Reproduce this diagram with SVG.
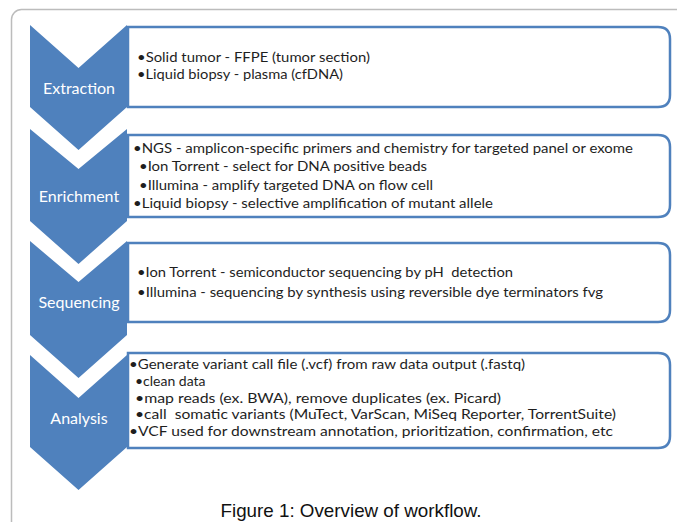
<svg xmlns="http://www.w3.org/2000/svg" width="677" height="522" viewBox="0 0 677 522">
  <style>
    .frame { fill: #ffffff; stroke: #bcbcbc; stroke-width: 1.5; }
    .chev { fill: #4f81bd; }
    .box { fill: #ffffff; stroke: #4f81bd; stroke-width: 2.5; }
    .lbl { font-family: Lato, "Liberation Sans", sans-serif; font-size: 16px; fill: #ffffff; text-anchor: middle; }
    .txt { font-family: Lato, "Liberation Sans", sans-serif; font-size: 14px; fill: #1e1e1e; white-space: pre; }
    .cap { font-family: "Liberation Sans", Arial, sans-serif; font-size: 18.5px; fill: #111111; text-anchor: middle; }
  </style>
  <rect width="677" height="522" fill="#ffffff"/>
  <rect class="frame" x="11.5" y="9.5" width="720" height="600" rx="10"/>

  <g id="extraction">
    <path class="box" d="M128,27 H658 Q670,27 670,39 V95 Q670,107 658,107 H128 Z"/>
    <path class="chev" d="M30,25 L78.5,68 L127,25 V107 L78.5,150 L30,107 Z"/>
    <text class="lbl" x="79" y="94">Extraction</text>
    <text class="txt" x="137" y="62" textLength="233" lengthAdjust="spacingAndGlyphs">•Solid tumor - FFPE (tumor section)</text>
    <text class="txt" x="137" y="79" textLength="206" lengthAdjust="spacingAndGlyphs">•Liquid biopsy - plasma (cfDNA)</text>
  </g>

  <g id="enrichment">
    <path class="box" d="M128,135 H658 Q670,135 670,147 V205 Q670,217 658,217 H128 Z"/>
    <path class="chev" d="M30,129 L78.5,169 L127,129 V221 L78.5,264 L30,221 Z"/>
    <text class="lbl" x="79" y="202">Enrichment</text>
    <text class="txt" x="133" y="153" textLength="500" lengthAdjust="spacingAndGlyphs">•NGS - amplicon-specific primers and chemistry for targeted panel or exome</text>
    <text class="txt" x="139" y="171" textLength="288" lengthAdjust="spacingAndGlyphs">•Ion Torrent - select for DNA positive beads</text>
    <text class="txt" x="139" y="190" textLength="294" lengthAdjust="spacingAndGlyphs">•Illumina - amplify targeted DNA on flow cell</text>
    <text class="txt" x="133" y="208" textLength="360" lengthAdjust="spacingAndGlyphs">•Liquid biopsy - selective amplification of mutant allele</text>
  </g>

  <g id="sequencing">
    <path class="box" d="M128,243 H658 Q670,243 670,255 V310 Q670,322 658,322 H128 Z"/>
    <path class="chev" d="M30,241 L78.5,282 L127,241 V335 L78.5,378 L30,335 Z"/>
    <text class="lbl" x="79" y="308">Sequencing</text>
    <text class="txt" x="137" y="277" textLength="376" lengthAdjust="spacingAndGlyphs">•Ion Torrent - semiconductor sequencing by pH  detection</text>
    <text class="txt" x="137" y="297" textLength="466" lengthAdjust="spacingAndGlyphs">•Illumina - sequencing by synthesis using reversible dye terminators fvg</text>
  </g>

  <g id="analysis">
    <path class="box" d="M128,353 H658 Q670,353 670,365 V436 Q670,448 658,448 H128 Z"/>
    <path class="chev" d="M30,355 L78.5,398 L127,355 V447 L78.5,490 L30,447 Z"/>
    <text class="lbl" x="79" y="424">Analysis</text>
    <text class="txt" x="129" y="369" textLength="396" lengthAdjust="spacingAndGlyphs">•Generate variant call file (.vcf) from raw data output (.fastq)</text>
    <text class="txt" x="135" y="386">•clean data</text>
    <text class="txt" x="135" y="403" textLength="366" lengthAdjust="spacingAndGlyphs">•map reads (ex. BWA), remove duplicates (ex. Picard)</text>
    <text class="txt" x="135" y="419" textLength="481" lengthAdjust="spacingAndGlyphs">•call  somatic variants (MuTect, VarScan, MiSeq Reporter, TorrentSuite)</text>
    <text class="txt" x="129" y="436" textLength="484" lengthAdjust="spacingAndGlyphs">•VCF used for downstream annotation, prioritization, confirmation, etc</text>
  </g>

  <g id="connectors"></g>

  <text class="cap" x="351" y="517" textLength="261" lengthAdjust="spacingAndGlyphs">Figure 1: Overview of workflow.</text>
</svg>
